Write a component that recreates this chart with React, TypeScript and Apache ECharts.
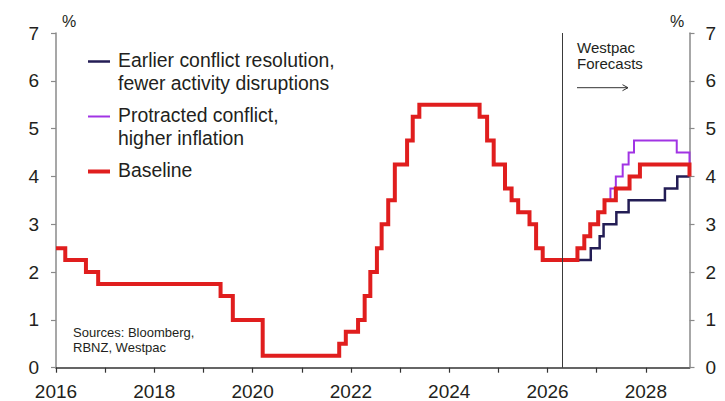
import React, { useEffect, useRef } from 'react';
import * as echarts from 'echarts';

// Official Cash Rate: each entry is [date the rate took effect, rate %]
const baseline: [string, number][] = [
  ['2016-01-01', 2.5],
  ['2016-03-10', 2.25],
  ['2016-08-11', 2.0],
  ['2016-11-10', 1.75],
  ['2019-05-08', 1.5],
  ['2019-08-07', 1.0],
  ['2020-03-16', 0.25],
  ['2021-10-06', 0.5],
  ['2021-11-24', 0.75],
  ['2022-02-23', 1.0],
  ['2022-04-13', 1.5],
  ['2022-05-25', 2.0],
  ['2022-07-13', 2.5],
  ['2022-08-17', 3.0],
  ['2022-10-05', 3.5],
  ['2022-11-23', 4.25],
  ['2023-02-22', 4.75],
  ['2023-04-05', 5.25],
  ['2023-05-24', 5.5],
  ['2024-08-14', 5.25],
  ['2024-10-09', 4.75],
  ['2024-11-27', 4.25],
  ['2025-02-19', 3.75],
  ['2025-04-09', 3.5],
  ['2025-05-28', 3.25],
  ['2025-08-20', 3.0],
  ['2025-10-08', 2.5],
  ['2025-11-26', 2.25],
  ['2026-08-11', 2.5],
  ['2026-10-01', 2.75],
  ['2026-11-14', 3.0],
  ['2027-01-12', 3.25],
  ['2027-02-28', 3.5],
  ['2027-05-23', 3.75],
  ['2027-09-02', 4.0],
  ['2027-11-18', 4.25],
  ['2028-11-21', 4.0],
];

const earlierResolution: [string, number][] = [
  ['2026-04-20', 2.25],
  ['2026-11-18', 2.5],
  ['2027-01-23', 2.75],
  ['2027-02-21', 3.0],
  ['2027-05-27', 3.25],
  ['2027-08-26', 3.5],
  ['2028-05-22', 3.75],
  ['2028-08-22', 4.0],
  ['2028-11-21', 4.0],
];

const protractedConflict: [string, number][] = [
  ['2027-02-28', 3.5],
  ['2027-04-13', 3.75],
  ['2027-05-23', 4.0],
  ['2027-07-13', 4.25],
  ['2027-08-26', 4.5],
  ['2027-10-05', 4.75],
  ['2028-08-18', 4.5],
  ['2028-11-21', 4.25],
];

const xStartYear = 2016;
const axisEnd = '2028-11-21';
const forecastStart = '2026-04-20';
const yMin = 0;
const yMax = 7;
const yStep = 1;

const FONT = '"Liberation Sans", Arial, Helvetica, sans-serif';
const TEXT = '#231f20';

const seriesDefs = [
  {
    name: 'Earlier conflict resolution,\nfewer activity disruptions',
    data: earlierResolution,
    color: '#231d55',
    width: 2.5,
  },
  {
    name: 'Protracted conflict,\nhigher inflation',
    data: protractedConflict,
    color: '#a134e4',
    width: 2,
  },
  { name: 'Baseline', data: baseline, color: '#e01e1e', width: 4 },
];

// Date string -> fractional year, so the x axis can tick on whole years
function decYear(iso: string): number {
  const d = new Date(iso + 'T00:00:00Z');
  const y = d.getUTCFullYear();
  const start = Date.UTC(y, 0, 1);
  const end = Date.UTC(y + 1, 0, 1);
  return y + (d.getTime() - start) / (end - start);
}

function textEl(x: number, y: number, text: string, size: number, align = 'left') {
  return {
    type: 'text',
    x,
    y,
    silent: true,
    style: {
      text,
      fontSize: size,
      fontFamily: FONT,
      fill: TEXT,
      align,
      textAlign: align,
      verticalAlign: 'middle',
      textVerticalAlign: 'middle',
    },
  };
}

function buildLegend(): any[] {
  const out: any[] = [];
  const firstCenter = 60;
  const itemGap = 55;
  const lineHeight = 22.6;
  seriesDefs.forEach((s, i) => {
    const cy = firstCenter + i * itemGap;
    out.push({
      type: 'line',
      silent: true,
      shape: { x1: 88, y1: cy + 1.5, x2: 110, y2: cy + 1.5 },
      style: { stroke: s.color, lineWidth: s.width },
    });
    s.name.split('\n').forEach((line, k) => {
      out.push(textEl(118, cy + k * lineHeight, line, 19.4));
    });
  });
  return out;
}

export default function App() {
  const ref = useRef<HTMLDivElement>(null);

  useEffect(() => {
    if (!ref.current) return;
    const chart = echarts.init(ref.current, undefined, { renderer: 'svg' });

    const yAxisCommon = {
      type: 'value',
      min: yMin,
      max: yMax,
      interval: yStep,
      splitLine: { show: false },
      axisLine: { show: true, lineStyle: { color: '#8a8a8a', width: 1.5 } },
      axisTick: { show: true, length: 5, lineStyle: { color: '#8a8a8a', width: 1.2 } },
      axisLabel: { fontSize: 19, color: TEXT, fontFamily: FONT },
    };

    const series: any[] = seriesDefs.map((s) => ({
      name: s.name,
      type: 'line',
      step: 'end',
      showSymbol: false,
      symbol: 'none',
      data: s.data.map(([d, v]) => [decYear(d), v]),
      lineStyle: { color: s.color, width: s.width, join: 'miter', cap: 'butt' },
      itemStyle: { color: s.color },
    }));

    // Vertical marker where the forecast period begins
    series[series.length - 1].markLine = {
      silent: true,
      symbol: 'none',
      label: { show: false },
      lineStyle: { color: '#3a3a3a', width: 1, type: 'solid' },
      data: [{ xAxis: decYear(forecastStart) }],
    };

    chart.setOption({
      animation: false,
      textStyle: { fontFamily: FONT },
      grid: { left: 56, right: 35.5, top: 33, bottom: 33.3, containLabel: false },
      xAxis: {
        type: 'value',
        min: xStartYear,
        max: decYear(axisEnd),
        interval: 1,
        splitLine: { show: false },
        axisLine: { show: true, onZero: false, lineStyle: { color: '#333333', width: 1.5 } },
        axisTick: { show: true, length: 5, lineStyle: { color: '#333333', width: 1.2 } },
        axisLabel: {
          fontSize: 19,
          color: TEXT,
          fontFamily: FONT,
          margin: 14,
          showMaxLabel: false,
          formatter: (v: number) =>
            Number.isInteger(v) && v % 2 === 0 ? String(v) : '',
        },
      },
      yAxis: [
        { ...yAxisCommon, position: 'left', axisLabel: { ...yAxisCommon.axisLabel, margin: 17 } },
        { ...yAxisCommon, position: 'right', axisLabel: { ...yAxisCommon.axisLabel, margin: 16 } },
      ],
      series,
      graphic: [
        ...buildLegend(),
        textEl(69, 21, '%', 16, 'center'),
        textEl(677, 21, '%', 16, 'center'),
        textEl(577, 47, 'Westpac', 15),
        textEl(577, 63, 'Forecasts', 15),
        {
          type: 'line',
          silent: true,
          shape: { x1: 577, y1: 87.7, x2: 628, y2: 87.7 },
          style: { stroke: '#333333', lineWidth: 1 },
        },
        {
          type: 'polyline',
          silent: true,
          shape: { points: [[622.5, 84.7], [628, 87.7], [622.5, 90.7]] },
          style: { stroke: '#333333', lineWidth: 1, fill: 'none' },
        },
        textEl(73, 332.6, 'Sources: Bloomberg,', 13),
        textEl(73, 347.6, 'RBNZ, Westpac', 13),
      ],
    });

    return () => chart.dispose();
  }, []);

  return (
    <div
      ref={ref}
      style={{ position: 'absolute', left: 0, top: 0, width: 725, height: 401, background: '#fff' }}
    />
  );
}
